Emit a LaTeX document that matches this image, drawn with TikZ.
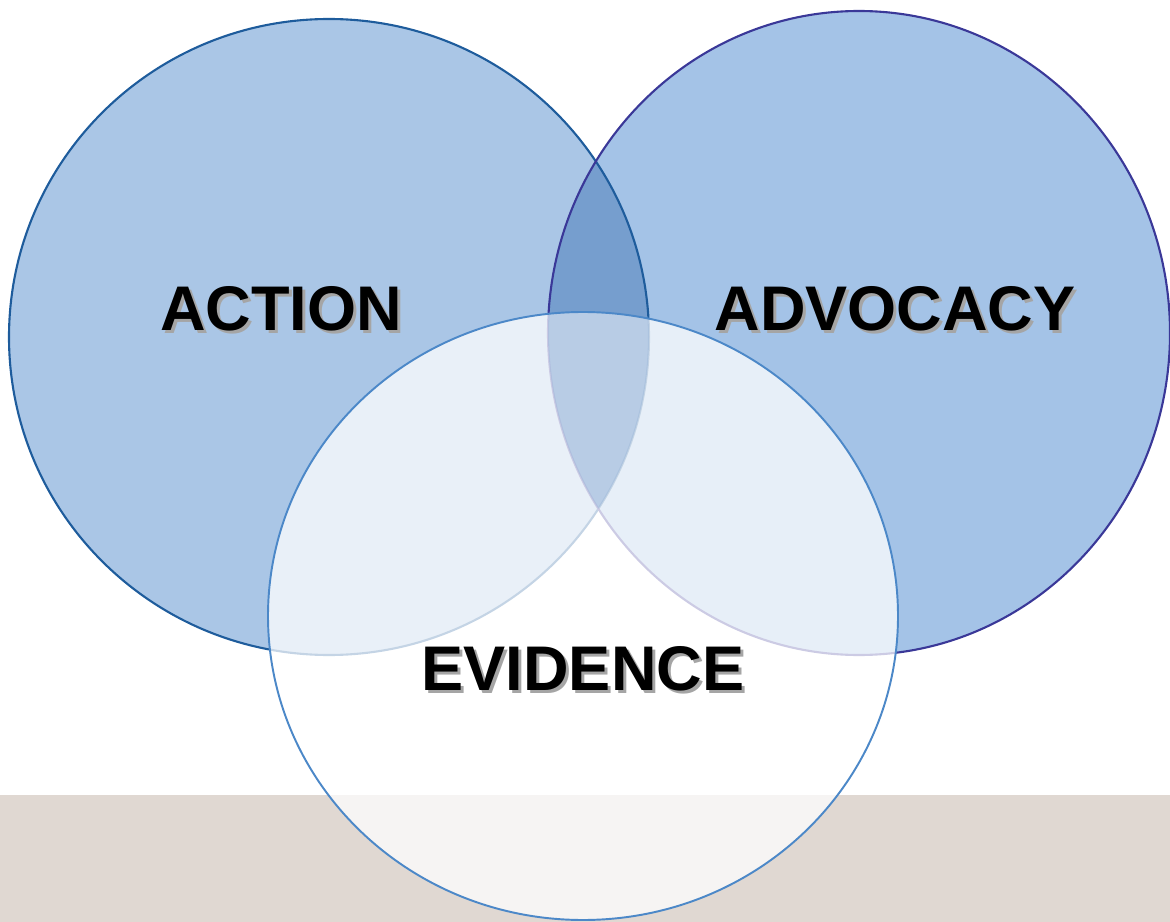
\documentclass[tikz,border=0pt]{standalone}
\usepackage{fontspec}
\setmainfont{Liberation Sans}
\usepackage{tikz}
\definecolor{actionblue}{RGB}{170,198,230}
\definecolor{advocacyblue}{RGB}{164,195,231}
\definecolor{overlapblue}{RGB}{118,158,206}
\definecolor{tripleblue}{RGB}{150,180,218}
\definecolor{actionline}{RGB}{30,92,156}
\definecolor{advocacyline}{RGB}{58,56,152}
\definecolor{evidenceline}{RGB}{76,136,200}
\definecolor{bandgrey}{RGB}{224,216,210}
\definecolor{shadowgrey}{RGB}{165,165,165}
% label text with a grey drop shadow behind it
\newcommand{\shadowed}[1]{\rlap{\kern0.06cm\raisebox{-0.06cm}{\color{shadowgrey}#1}}#1}

\begin{document}
\begin{tikzpicture}[x=0.02cm, y=-0.02cm, every node/.style={inner sep=0pt, text depth=0pt, font=\fontsize{35.9}{40}\selectfont\bfseries}]
  \useasboundingbox (0,0) rectangle (1170,922);
  % grey band along the bottom
  \fill[bandgrey] (0,795) rectangle (1170,922);

  % Circle fills (x radius, y radius in px)
  \fill[actionblue] (329,337) ellipse [x radius=320, y radius=318];
  \fill[advocacyblue] (859,333) ellipse [x radius=311, y radius=322];

  % Darker part where ACTION and ADVOCACY meet
  \begin{scope}
    \clip (329,337) ellipse [x radius=320, y radius=318];
    \fill[overlapblue] (859,333) ellipse [x radius=311, y radius=322];
  \end{scope}

  % Outlines of the two top circles
  \draw[actionline, line width=1.2pt] (329,337) ellipse [x radius=320, y radius=318];
  \draw[advocacyline, line width=1.2pt] (859,333) ellipse [x radius=311, y radius=322];

  % EVIDENCE lies on top, see-through white
  \fill[white, fill opacity=0.74] (583,616) ellipse [x radius=315, y radius=304];
  \begin{scope}
    \clip (329,337) ellipse [x radius=320, y radius=318];
    \clip (859,333) ellipse [x radius=311, y radius=322];
    \fill[tripleblue, fill opacity=0.5] (583,616) ellipse [x radius=315, y radius=304];
  \end{scope}
  \draw[evidenceline, line width=1.1pt] (583,616) ellipse [x radius=315, y radius=304];

  % Labels
  \node (action) at (281,308) {\shadowed{ACTION}};
  \node (advocacy) at (895,308) {\shadowed{ADVOCACY}};
  \node (evidence) at (583,668) {\shadowed{EVIDENCE}};

\end{tikzpicture}
\end{document}
